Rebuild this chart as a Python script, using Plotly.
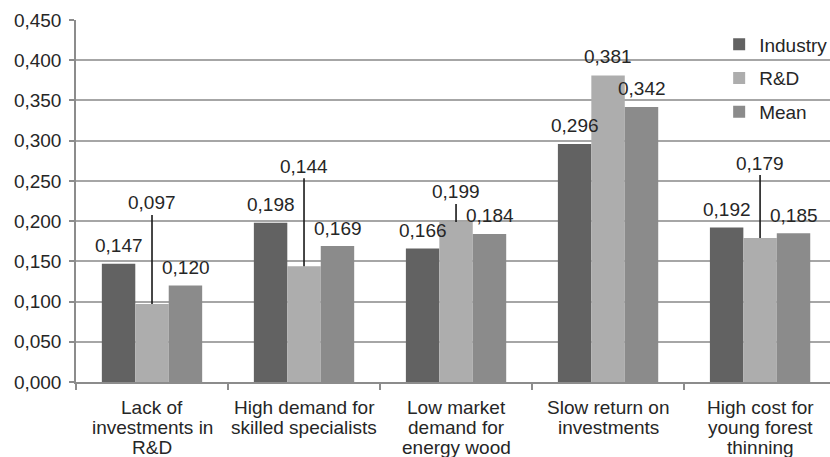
import plotly.graph_objects as go

categories = ["Lack of investments in R&D",
              "High demand for skilled specialists",
              "Low market demand for energy wood",
              "Slow return on investments",
              "High cost for young forest thinning"]
category_lines = [["Lack of", "investments in", "R&D"],
                  ["High demand for", "skilled specialists"],
                  ["Low market", "demand for", "energy wood"],
                  ["Slow return on", "investments"],
                  ["High cost for", "young forest", "thinning"]]
industry = [0.147, 0.198, 0.166, 0.296, 0.192]
rnd = [0.097, 0.144, 0.199, 0.381, 0.179]
mean = [0.120, 0.169, 0.184, 0.342, 0.185]
y_ticks = [0.0, 0.05, 0.10, 0.15, 0.20, 0.25, 0.30, 0.35, 0.40, 0.45]

# leader-line lengths (px) for R&D labels; None = plain label
rnd_leader = [-101, -100, -30, None, -75]

FONT = "Arial, Liberation Sans, sans-serif"
TXT = "#262626"
FS = 19
colors = {"Industry": "#626262", "R&D": "#adadad", "Mean": "#8b8b8b"}

fig = go.Figure()
for name, vals in [("Industry", industry), ("R&D", rnd), ("Mean", mean)]:
    fig.add_trace(go.Bar(x=categories, y=vals, name=name,
                         marker=dict(color=colors[name], line=dict(width=0)),
                         legendgroup=name))

def fmt(v):
    return f"{v:.3f}".replace(".", ",")

tf = dict(size=FS, color=TXT, family=FONT)
annos = []
BW = 33.5
for idx, c in enumerate(categories):
    annos.append(dict(x=c, y=industry[idx], xref="x", yref="y", text=fmt(industry[idx]),
                      showarrow=False, xshift=-BW, yshift=18, yanchor="middle", font=tf))
    annos.append(dict(x=c, y=mean[idx], xref="x", yref="y", text=fmt(mean[idx]),
                      showarrow=False, xshift=BW, yshift=18, yanchor="middle", font=tf))
    if rnd_leader[idx] is None:
        annos.append(dict(x=c, y=rnd[idx], xref="x", yref="y", text=fmt(rnd[idx]),
                          showarrow=False, yshift=19, yanchor="middle", font=tf))
    else:
        annos.append(dict(x=c, y=rnd[idx], xref="x", yref="y", text=fmt(rnd[idx]),
                          showarrow=True, arrowhead=0, arrowwidth=1.6, arrowcolor="#1a1a1a",
                          ax=0, ay=rnd_leader[idx], standoff=0, font=tf))
    for k, line in enumerate(category_lines[idx]):
        annos.append(dict(x=c, y=0, xref="x", yref="y", text=line, showarrow=False,
                          yshift=-(25 + 20 * k), yanchor="middle", font=tf))

fig.update_layout(
    width=830, height=457,
    margin=dict(l=76, r=0, t=20, b=75, autoexpand=False),
    paper_bgcolor="white", plot_bgcolor="white",
    separators=", ",
    barmode="group", bargap=0.34, bargroupgap=0,
    font=dict(family=FONT, size=FS, color=TXT),
    showlegend=True,
    legend=dict(x=0.853, y=0.985, xanchor="left", yanchor="top",
                bgcolor="rgba(0,0,0,0)", font=tf,
                tracegroupgap=6, itemwidth=30),
    annotations=annos,
)
fig.update_xaxes(type="category", range=[-0.5, 4.46], showline=True, linecolor="#8c8c8c",
                 linewidth=1.5, ticks="outside", tickson="boundaries", ticklen=6,
                 tickcolor="#8c8c8c", tickwidth=1.5, showgrid=False,
                 showticklabels=False, automargin=False)
fig.update_yaxes(range=[0, 0.45], tickvals=y_ticks, tickformat=".3f",
                 showgrid=True, gridcolor="#a6a6a6", gridwidth=1.5,
                 showline=True, linecolor="#8c8c8c", linewidth=1.5,
                 ticks="outside", ticklen=5, tickcolor="#8c8c8c", tickwidth=1.5,
                 ticklabelstandoff=4, automargin=False,
                 tickfont=tf, zeroline=False)

fig.write_html("out.html")
